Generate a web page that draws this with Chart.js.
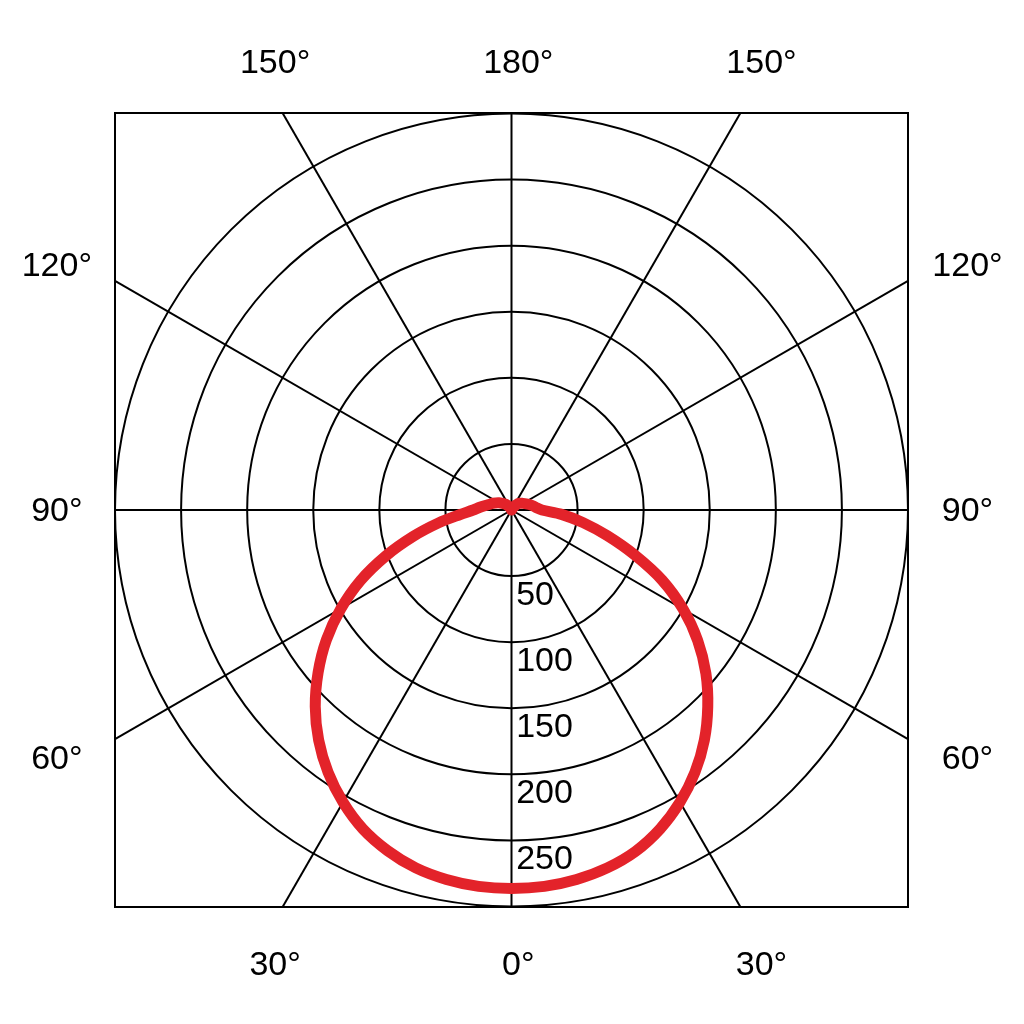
<!DOCTYPE html>
<html>
<head>
<meta charset="utf-8">
<script src="https://cdn.jsdelivr.net/npm/chart.js@4/dist/chart.umd.min.js"></script>
<style>
  html, body { margin: 0; padding: 0; background: #fff; }
  #wrap { width: 1024px; height: 1024px; }
</style>
</head>
<body>
<div id="wrap"><canvas id="c" width="1024" height="1024"></canvas></div>
<script>
const angles  = [0, 5, 10, 15, 20, 25, 30, 35, 40, 45, 50, 55, 60, 65, 70, 75, 80, 85, 90, 95, 100, 105, 110, 120, 135, 150, 180]
const leftCd  = [286, 285.5, 283.5, 280, 274, 266, 255, 242, 227, 210, 191, 171, 149, 126, 101, 77, 56, 39, 29, 24, 20, 17, 15, 11, 6, 2, 0]
const rightCd = [286, 285.5, 283.5, 280, 274.5, 266, 255, 242, 227, 210, 192, 172, 150, 126, 99, 75, 55, 38, 23, 19, 17, 15, 13, 10, 7, 2, 0]

const rings = [50, 100, 150, 200, 250, 300]
const ringLabels = ['50', '100', '150', '200', '250']
const spokes = [0, 30, 60, 90, 120, 150, 180, 210, 240, 270, 300, 330]
const topLabels = ['150', '180', '150']
const bottomLabels = ['30', '0', '30']
const sideLabels = ['120', '90', '60']

const toRad = d => d * Math.PI / 180

// walk round the curve: left side from 180 down to 0, then right side 0 up to 180
const curve = []
for (let i = angles.length - 1; i >= 0; i--) {
    const a = toRad(angles[i])
    curve.push({x: -leftCd[i] * Math.sin(a), y: -leftCd[i] * Math.cos(a)})
}
for (let i = 1; i < angles.length; i++) {
    const a = toRad(angles[i])
    curve.push({x: rightCd[i] * Math.sin(a), y: -rightCd[i] * Math.cos(a)})
}

const FONT = '34px "Liberation Sans", Arial, sans-serif'

const polarGrid = {
    id: 'polarGrid',
    beforeDatasetsDraw(chart) {
        const {ctx, scales: {x, y}} = chart
        const cx = x.getPixelForValue(0), cy = y.getPixelForValue(0)
        const unit = x.getPixelForValue(1) - cx
        ctx.save()
        ctx.strokeStyle = '#000'
        ctx.lineWidth = 2
        rings.forEach(r => {
            ctx.beginPath()
            ctx.arc(cx, cy, r * unit, 0, Math.PI * 2)
            ctx.stroke()
        })
        spokes.forEach(d => {
            const s = Math.sin(toRad(d)), c = Math.cos(toRad(d))
            const len = 300 / Math.max(Math.abs(s), Math.abs(c))
            ctx.beginPath()
            ctx.moveTo(cx, cy)
            ctx.lineTo(x.getPixelForValue(len * s), y.getPixelForValue(-len * c))
            ctx.stroke()
        })
        const l = x.getPixelForValue(-300), r = x.getPixelForValue(300)
        const t = y.getPixelForValue(300), b = y.getPixelForValue(-300)
        ctx.strokeRect(l, t, r - l, b - t)
        ctx.restore()
    },
    afterDraw(chart) {
        const {ctx, scales: {x, y}} = chart
        ctx.save()
        ctx.fillStyle = '#000'
        ctx.font = FONT
        ctx.textBaseline = 'middle'
        // ring values, just under each ring on the 0° spoke
        ctx.textAlign = 'left'
        ringLabels.forEach((txt, i) => {
            ctx.fillText(txt, x.getPixelForValue(3.5), y.getPixelForValue(-rings[i] - 14.5))
        })
        // degree labels: digits centred, degree sign hanging after
        const deg = (txt, px, py) => {
            const w = ctx.measureText(txt).width
            ctx.textAlign = 'center'
            ctx.fillText(txt, px, py)
            ctx.textAlign = 'left'
            ctx.fillText('°', px + w / 2, py)
        }
        const cols = [-184, 0, 184]
        topLabels.forEach((txt, i) => deg(txt, x.getPixelForValue(cols[i]), y.getPixelForValue(337.5)))
        bottomLabels.forEach((txt, i) => deg(txt, x.getPixelForValue(cols[i]), y.getPixelForValue(-344.3)))
        const rows = [183.7, -1.3, -188.3]
        ctx.textAlign = 'center'
        sideLabels.forEach((txt, i) => {
            ctx.fillText(txt + '°', x.getPixelForValue(-344), y.getPixelForValue(rows[i]))
            ctx.fillText(txt + '°', x.getPixelForValue(345), y.getPixelForValue(rows[i]))
        })
        ctx.restore()
    }
}

new Chart(document.getElementById('c'), {
    type: 'scatter',
    data: {
        datasets: [{
            data: curve,
            showLine: true,
            borderColor: '#e3232a',
            borderWidth: 11,
            pointRadius: 0,
            tension: 0.3,
            borderJoinStyle: 'round',
            borderCapStyle: 'round'
        }]
    },
    options: {
        responsive: false,
        animation: false,
        devicePixelRatio: 1,
        layout: {padding: {left: 115, right: 116, top: 113, bottom: 117}},
        plugins: {legend: {display: false}, tooltip: {enabled: false}},
        scales: {
            x: {type: 'linear', min: -300, max: 300, display: false},
            y: {type: 'linear', min: -300, max: 300, display: false}
        }
    },
    plugins: [polarGrid]
})
</script>
</body>
</html>
